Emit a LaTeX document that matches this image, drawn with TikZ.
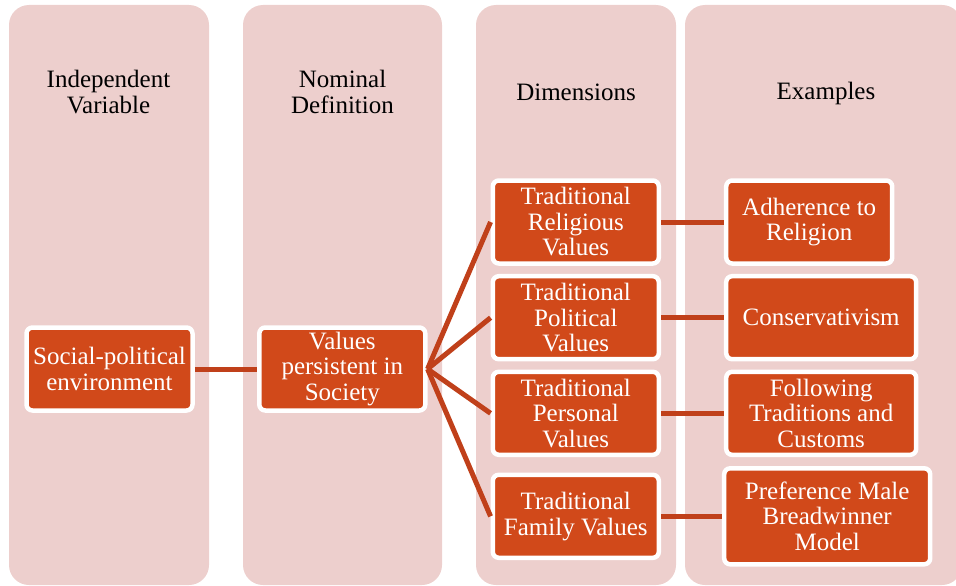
\documentclass[tikz,border=0pt]{standalone}
\usepackage{fontspec}
\setmainfont{Liberation Serif}
\definecolor{colbg}{RGB}{237,207,205}
\definecolor{boxfill}{RGB}{209,73,26}
\definecolor{linkred}{RGB}{192,64,26}

\begin{document}
\begin{tikzpicture}[x=1pt,y=-1pt,
    column/.style={fill=colbg,rounded corners=20pt},
    head/.style={align=center,text=black,font=\fontsize{25}{26}\selectfont},
    cbox/.style={draw=white,line width=4.5pt,fill=boxfill,rounded corners=6pt,
        text=white,align=center,inner sep=0pt,minimum height=83pt,
        font=\fontsize{25}{25.5}\selectfont},
    link/.style={draw=linkred,line width=5pt}]
                \useasboundingbox (0,0) rectangle (956,586);
                \clip (0,0) rectangle (956,586);

                % the four columns
                \fill[column] (9,5) rectangle (209,585);
                \fill[column] (243,5) rectangle (442,585);
                \fill[column] (476,5) rectangle (676,585);
                \fill[column] (685,5) rectangle (962,585);

                \node[head] (hind) at (108.5,92) {Independent\\Variable};
                \node[head] (hnom) at (342.5,92) {Nominal\\Definition};
                \node[head] (hdim) at (576,92) {Dimensions};
                \node[head] (hexa) at (826,93.5) {Examples};

                \node[cbox,minimum width=166pt] (soc) at (109.5,369) {Social-political\\environment};
                \node[cbox,minimum width=166pt] (val) at (342.3,369) {Values\\persistent in\\Society};

                \node[cbox,minimum width=166pt] (rel) at (575.8,222) {Traditional\\Religious\\Values};
                \node[cbox,minimum width=166pt] (pol) at (575.8,317.7) {Traditional\\Political\\Values};
                \node[cbox,minimum width=166pt] (per) at (575.8,413.3) {Traditional\\Personal\\Values};
                \node[cbox,minimum width=166pt] (fam) at (575.8,516.3) {Traditional\\Family Values};

                \node[cbox,minimum width=166pt] (adh) at (809.2,222) {Adherence to\\Religion};
                \node[cbox,minimum width=190pt] (con) at (821.2,317.7) {Conservativism};
                \node[cbox,minimum width=190pt] (fol) at (821.2,413.3) {Following\\Traditions and\\Customs};
                \node[cbox,minimum width=206pt,minimum height=96pt] (pre) at (827.2,516.3) {Preference Male\\Breadwinner\\Model};

                \draw[link] (soc) -- (val);
                \foreach \dim in {rel,pol,per,fam}
                    \draw[link] (val.east) -- (\dim.west);
                \draw[link] (rel) -- (adh);
                \draw[link] (pol) -- (con);
                \draw[link] (per) -- (fol);
                \draw[link] (fam) -- (pre);
            \end{tikzpicture}
\end{document}
